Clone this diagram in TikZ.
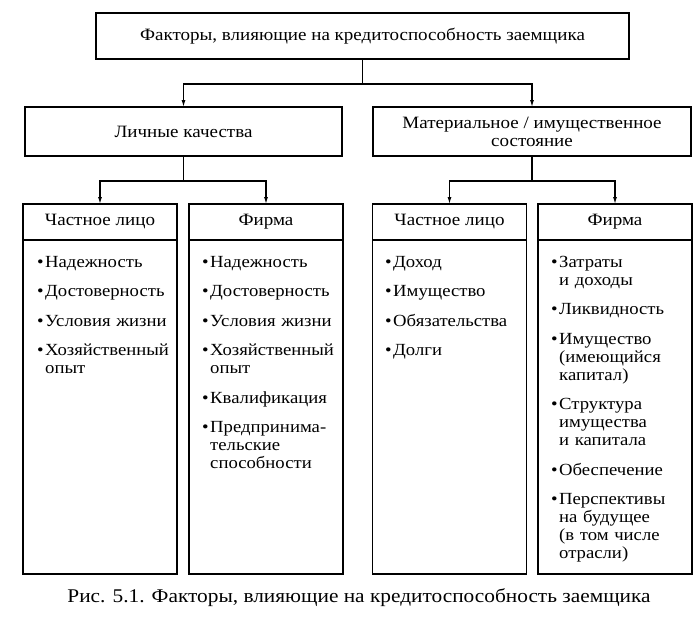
\documentclass[tikz,border=0pt]{standalone}
\usepackage{fontspec}
\setmainfont{Liberation Serif}[FakeStretch=1.1]
\usetikzlibrary{arrows.meta, positioning, calc}

% one bullet point of a column list
\newcommand{\pnt}[1]{\par\hangindent=8pt\hangafter=1\noindent
  \makebox[8pt][l]{\textbullet}#1\par\vspace{11.5pt}}

\begin{document}
\begin{tikzpicture}[x=1pt, y=-1pt, >={Latex[length=7pt,width=4pt]},
    every node/.style={font=\fontsize{17.3}{18}\selectfont},
    box/.style={draw, line width=1.4pt, rectangle, outer sep=0pt, inner sep=2pt},
    head/.style={box, minimum width=154pt, minimum height=36pt},
    body/.style={box, minimum width=154pt, minimum height=334pt},
    list/.style={anchor=north west, inner sep=0pt, text width=145pt,
                 font=\fontsize{17}{18}\selectfont},
    conn/.style={->, line width=1.1pt}]

  \useasboundingbox (0,0) rectangle (693,624);

  \node[box, minimum width=533pt, minimum height=46pt] (top) at (362.5,36)
       {Факторы, влияющие на кредитоспособность заемщика};

  \node[box, minimum width=317pt, minimum height=49pt] (lk) at (183.5,131.5)
       {Личные качества};
  \node[box, minimum width=318pt, minimum height=49pt, align=center] (ms) at (532,131.5)
       {Материальное / имущественное\\состояние};

  \node[head] (h1) at (100,222) {Частное лицо};
  \node[head] (h2) at (266,222) {Фирма};
  \node[head] (h3) at (449.5,222) {Частное лицо};
  \node[head] (h4) at (615,222) {Фирма};

  \node[body, below=0pt of h1] (b1) {};
  \node[body, below=0pt of h2] (b2) {};
  \node[body, below=0pt of h3] (b3) {};
  \node[body, below=0pt of h4] (b4) {};

  \node[list] (l1) at (37,249) {%
    \pnt{Надежность}
    \pnt{Достоверность}
    \pnt{Условия жизни}
    \pnt{Хозяйственный\newline опыт}};
  \node[list] (l2) at (202,249) {%
    \pnt{Надежность}
    \pnt{Достоверность}
    \pnt{Условия жизни}
    \pnt{Хозяйственный\newline опыт}
    \pnt{Квалификация}
    \pnt{Предпринима-\newline тельские\newline способности}};
  \node[list] (l3) at (385,249) {%
    \pnt{Доход}
    \pnt{Имущество}
    \pnt{Обязательства}
    \pnt{Долги}};
  \node[list] (l4) at (551,249) {%
    \pnt{Затраты\newline и доходы}
    \pnt{Ликвидность}
    \pnt{Имущество\newline (имеющийся\newline капитал)}
    \pnt{Структура\newline имущества\newline и капитала}
    \pnt{Обеспечение}
    \pnt{Перспективы\newline на будущее\newline (в том числе\newline отрасли)}};

  \coordinate (j0) at ($(top.south)+(0,25)$);
  \coordinate (j1) at ($(lk.south)+(0,25)$);
  \coordinate (j2) at ($(ms.south)+(0,25)$);

  \draw[conn] (top.south) -- (j0) -| (lk.north);
  \draw[conn] (j0) -| (ms.north);
  \draw[conn] (lk.south) -- (j1) -| (h1.north);
  \draw[conn] (j1) -| (h2.north);
  \draw[conn] (ms.south) -- (j2) -| (h3.north);
  \draw[conn] (j2) -| (h4.north);

  \node[font=\fontsize{19.4}{21}\selectfont] (cap) at (359,598)
       {Рис. 5.1. Факторы, влияющие на кредитоспособность заемщика};
\end{tikzpicture}
\end{document}
